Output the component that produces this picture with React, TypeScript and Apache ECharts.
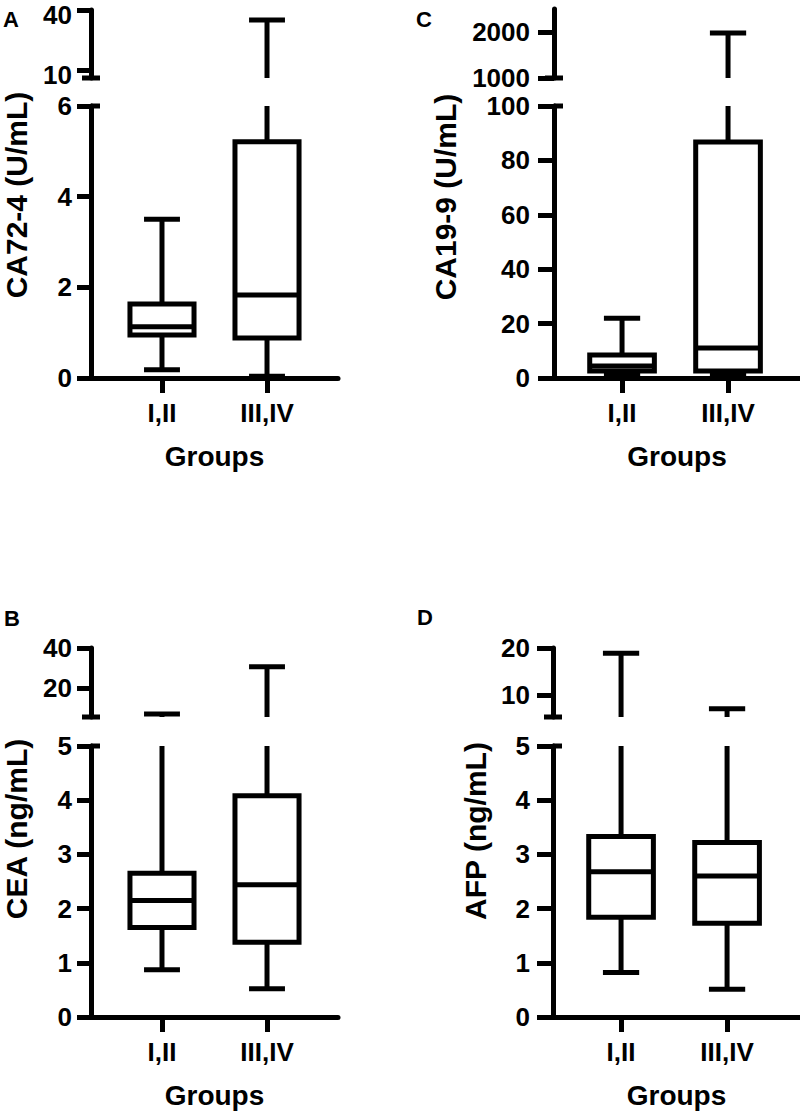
import React, { useEffect, useRef } from "react";
import * as echarts from "echarts";

// ---------- data ----------
const categories = ["I,II", "III,IV"];
// each row: [min, Q1, median, Q3, max]
const ca724Stats = [
  [0.18, 0.95, 1.13, 1.63, 3.5],
  [0.04, 0.88, 1.83, 5.21, 35],
];
const ca199Stats = [
  [1.5, 2.6, 4.4, 8.5, 22],
  [1.5, 2.6, 11, 86.8, 1980],
];
const ceaStats = [
  [0.87, 1.65, 2.15, 2.65, 7],
  [0.52, 1.38, 2.44, 4.08, 30.6],
];
const afpStats = [
  [0.82, 1.84, 2.68, 3.33, 18.9],
  [0.51, 1.73, 2.6, 3.22, 7.07],
];

// axis segments [min, max] and tick labels
const ca724Lower = [0, 6];
const ca724LowerTicks = [0, 2, 4, 6];
const ca724Upper = [6, 40];
const ca724UpperTicks = [10, 40];

const ca199Lower = [0, 100];
const ca199LowerTicks = [0, 20, 40, 60, 80, 100];
const ca199Upper = [1000, 2500];
const ca199UpperTicks = [1000, 2000];

const ceaLower = [0, 5];
const ceaLowerTicks = [0, 1, 2, 3, 4, 5];
const ceaUpper = [5.5, 40];
const ceaUpperTicks = [20, 40];

const afpLower = [0, 5];
const afpLowerTicks = [0, 1, 2, 3, 4, 5];
const afpUpper = [5.3, 20];
const afpUpperTicks = [10, 20];

const panelLetters = ["A", "C", "B", "D"];
const yTitles = ["CA72-4 (U/mL)", "CA19-9 (U/mL)", "CEA (ng/mL)", "AFP (ng/mL)"];
const xTitle = "Groups";

// ---------- layout / style ----------
const FONT = '"Liberation Sans", Arial, Helvetica, sans-serif';
const LW = 5;
const BOX_HALF = 0.305;
const CAP_HALF = 0.171;
const TICK_FONT = 26;

type Panel = {
  stats: number[][];
  lower: number[];
  lowerTicks: number[];
  upper: number[];
  upperTicks: number[];
  left: number;
  width: number;
  xMin: number;
  xMax: number;
  upperTop: number;
  upperBottom: number;
  lowerTop: number;
  lowerBottom: number;
  tickLen: number;
  labelMargin: number;
  upperLabelsAsText: boolean;
  letter: string;
  letterPos: number[];
  title: string;
  titlePos: number[];
};

const panels: Panel[] = [
  {
    stats: ca724Stats, lower: ca724Lower, lowerTicks: ca724LowerTicks, upper: ca724Upper, upperTicks: ca724UpperTicks,
    left: 91, width: 247, xMin: -0.676, xMax: 1.676,
    upperTop: 10, upperBottom: 78, lowerTop: 106, lowerBottom: 378,
    tickLen: 14, labelMargin: 19, upperLabelsAsText: true,
    letter: panelLetters[0], letterPos: [11, 19], title: yTitles[0], titlePos: [16, 195],
  },
  {
    stats: ca199Stats, lower: ca199Lower, lowerTicks: ca199LowerTicks, upper: ca199Upper, upperTicks: ca199UpperTicks,
    left: 554, width: 246, xMin: -0.642, xMax: 1.679,
    upperTop: 9, upperBottom: 78, lowerTop: 106, lowerBottom: 378,
    tickLen: 16, labelMargin: 24, upperLabelsAsText: false,
    letter: panelLetters[1], letterPos: [424, 19], title: yTitles[1], titlePos: [445, 197],
  },
  {
    stats: ceaStats, lower: ceaLower, lowerTicks: ceaLowerTicks, upper: ceaUpper, upperTicks: ceaUpperTicks,
    left: 91, width: 247, xMin: -0.676, xMax: 1.676,
    upperTop: 648, upperBottom: 717, lowerTop: 746, lowerBottom: 1017,
    tickLen: 14, labelMargin: 19, upperLabelsAsText: false,
    letter: panelLetters[2], letterPos: [12, 618], title: yTitles[2], titlePos: [16, 829],
  },
  {
    stats: afpStats, lower: afpLower, lowerTicks: afpLowerTicks, upper: afpUpper, upperTicks: afpUpperTicks,
    left: 553, width: 247, xMin: -0.642, xMax: 1.688,
    upperTop: 648, upperBottom: 717, lowerTop: 746, lowerBottom: 1017,
    tickLen: 16, labelMargin: 23, upperLabelsAsText: false,
    letter: panelLetters[3], letterPos: [425, 617], title: yTitles[3], titlePos: [475, 831],
  },
];

function makeRender(lo: number, hi: number, breakSide: "top" | "bottom") {
  return (params: any, api: any) => {
    const x = api.value(0);
    const mn = api.value(1);
    const q1 = api.value(2);
    const md = api.value(3);
    const q3 = api.value(4);
    const mx = api.value(5);
    const eps = 1e-9;
    const inR = (t: number) => t >= lo - eps && t <= hi + eps;
    const cl = (t: number) => Math.max(lo, Math.min(hi, t));
    const P = (xx: number, yy: number) => api.coord([xx, yy]);
    const style = { stroke: "#000", lineWidth: LW, fill: "none" };
    const children: any[] = [];
    const line = (a: number[], b: number[], cap = "butt") =>
      children.push({
        type: "line",
        shape: { x1: a[0], y1: a[1], x2: b[0], y2: b[1] },
        style: { ...style, lineCap: cap },
      });

    // whiskers
    if (cl(mx) > cl(q3)) line(P(x, cl(q3)), P(x, cl(mx)));
    if (inR(mx)) line(P(x - CAP_HALF, mx), P(x + CAP_HALF, mx));
    if (cl(q1) > cl(mn)) line(P(x, cl(mn)), P(x, cl(q1)));
    if (inR(mn)) line(P(x - CAP_HALF, mn), P(x + CAP_HALF, mn));

    // box
    if (cl(q3) > cl(q1)) {
      if (inR(q1) && inR(q3)) {
        const a = P(x - BOX_HALF, q3);
        const b = P(x + BOX_HALF, q1);
        children.push({
          type: "rect",
          shape: { x: a[0], y: a[1], width: b[0] - a[0], height: b[1] - a[1] },
          style: { stroke: "#000", lineWidth: LW, fill: "#fff", lineJoin: "miter" },
        });
      } else {
        line(P(x - BOX_HALF, cl(q1)), P(x - BOX_HALF, cl(q3)));
        line(P(x + BOX_HALF, cl(q1)), P(x + BOX_HALF, cl(q3)));
        if (inR(q3)) line(P(x - BOX_HALF, q3), P(x + BOX_HALF, q3), "square");
        if (inR(q1)) line(P(x - BOX_HALF, q1), P(x + BOX_HALF, q1), "square");
      }
    }
    if (inR(md)) line(P(x - BOX_HALF, md), P(x + BOX_HALF, md));

    // axis break marks
    if (params.dataIndex === 0) {
      const cs = params.coordSys;
      if (breakSide === "bottom") {
        const y = P(0, lo)[1];
        line([cs.x - 9, y], [cs.x + 9, y]);
      } else {
        const y = P(0, hi)[1];
        line([cs.x, y], [cs.x + 9, y]);
      }
    }
    return { type: "group", children };
  };
}

const black = "#000";

function buildOption() {
  const grid: any[] = [];
  const xAxis: any[] = [];
  const yAxis: any[] = [];
  const series: any[] = [];
  const graphic: any[] = [];

  panels.forEach((p) => {
    const segs = [
      { range: p.upper, ticks: p.upperTicks, top: p.upperTop, bottom: p.upperBottom, isLower: false },
      { range: p.lower, ticks: p.lowerTicks, top: p.lowerTop, bottom: p.lowerBottom, isLower: true },
    ];
    segs.forEach((s) => {
      const gi = grid.length;
      grid.push({ left: p.left, top: s.top, width: p.width, height: s.bottom - s.top, containLabel: false });
      xAxis.push({
        type: "value",
        gridIndex: gi,
        min: p.xMin,
        max: p.xMax,
        show: s.isLower,
        splitLine: { show: false },
        axisLine: { show: true, onZero: false, lineStyle: { color: black, width: LW } },
        axisTick: { show: true, length: 15, customValues: [0, 1], lineStyle: { color: black, width: LW } },
        axisLabel: {
          show: true,
          customValues: [0, 1],
          formatter: (v: number) => categories[Math.round(v)] ?? "",
          margin: 22,
          fontSize: 26,
          fontWeight: "bold",
          fontFamily: FONT,
          color: black,
        },
        name: s.isLower ? xTitle : "",
        nameLocation: "middle",
        nameGap: 64,
        nameTextStyle: { fontSize: 28, fontWeight: "bold", fontFamily: FONT, color: black },
      });
      yAxis.push({
        type: "value",
        gridIndex: gi,
        min: s.range[0],
        max: s.range[1],
        splitLine: { show: false },
        axisLine: { show: true, onZero: false, lineStyle: { color: black, width: LW } },
        axisTick: { show: true, length: p.tickLen, customValues: s.ticks, lineStyle: { color: black, width: LW } },
        axisLabel: {
          show: !(p.upperLabelsAsText && !s.isLower),
          customValues: s.ticks,
          formatter: (v: number) => String(v),
          margin: p.labelMargin,
          fontSize: TICK_FONT,
          fontWeight: "bold",
          fontFamily: FONT,
          color: black,
        },
      });
      series.push({
        type: "custom",
        coordinateSystem: "cartesian2d",
        xAxisIndex: gi,
        yAxisIndex: gi,
        clip: false,
        silent: true,
        data: p.stats.map((st, i) => [i, ...st]),
        encode: { x: 0, y: [1, 2, 3, 4, 5] },
        renderItem: makeRender(s.range[0], s.range[1], s.isLower ? "top" : "bottom"),
      });
    });

    graphic.push({
      type: "text",
      x: p.letterPos[0],
      y: p.letterPos[1],
      style: {
        text: p.letter,
        fontSize: 22,
        fontWeight: "bold",
        fontFamily: FONT,
        fill: black,
        align: "center",
        verticalAlign: "middle",
      },
    });
    graphic.push({
      type: "text",
      x: p.titlePos[0],
      y: p.titlePos[1],
      rotation: Math.PI / 2,
      style: {
        text: p.title,
        fontSize: 30,
        lineHeight: 26,
        fontWeight: "bold",
        fontFamily: FONT,
        fill: black,
        align: "center",
        verticalAlign: "middle",
      },
    });
  });

  return {
    animation: false,
    backgroundColor: "#fff",
    grid,
    xAxis,
    yAxis,
    series,
    graphic,
  };
}

export default function App() {
  const ref = useRef<HTMLDivElement>(null);
  useEffect(() => {
    if (!ref.current) return;
    const chart = echarts.init(ref.current, null, { renderer: "svg" });
    const option: any = buildOption();
    chart.setOption(option);
    // tick labels of the upper CA72-4 segment, placed through the axis scale
    const extra: any[] = [];
    panels.forEach((p, pi) => {
      if (!p.upperLabelsAsText) return;
      const gi = pi * 2;
      p.upperTicks.forEach((v) => {
        const pt = chart.convertToPixel({ gridIndex: gi } as any, [0, v]) as number[];
        extra.push({
          type: "text",
          x: p.left - p.labelMargin,
          y: pt[1] + 5,
          style: {
            text: String(v),
            fontSize: TICK_FONT,
            fontWeight: "bold",
            fontFamily: FONT,
            fill: black,
            align: "right",
            verticalAlign: "middle",
          },
        });
      });
    });
    if (extra.length) chart.setOption({ graphic: [...option.graphic, ...extra] });
    return () => chart.dispose();
  }, []);
  return (
    <div
      ref={ref}
      style={{ position: "absolute", left: 0, top: 0, width: 800, height: 1114, background: "#fff" }}
    />
  );
}
